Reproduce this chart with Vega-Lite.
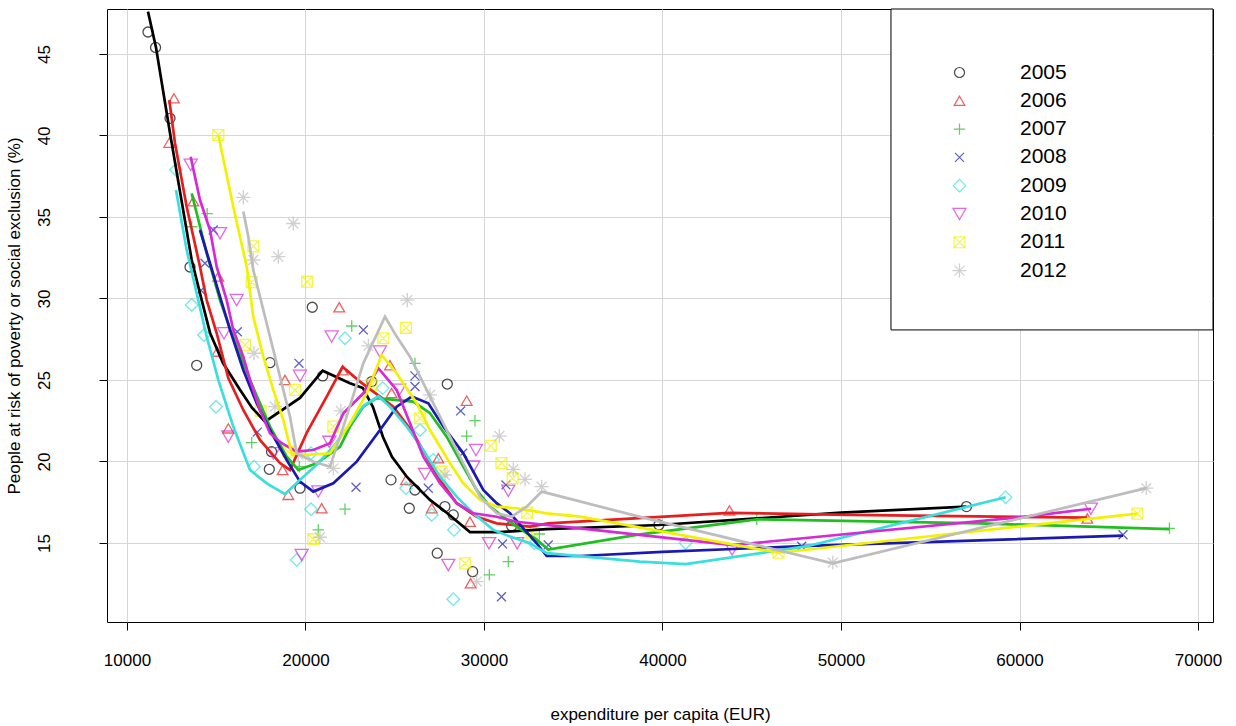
{
"$schema":"https://vega.github.io/schema/vega-lite/v6.json",
"width":1106,"height":613,
"autosize":{"type":"none"},
"padding":{"left":107,"top":9,"right":23,"bottom":104},
"background":"white",
"config":{"font":"Liberation Sans","view":{"stroke":"black","strokeWidth":1},
"axis":{"labelFont":"Liberation Sans","titleFont":"Liberation Sans","labelColor":"black","titleColor":"black","labelFontSize":17,"titleFontSize":17,"titleFontWeight":"normal","tickColor":"black","tickSize":8,"domain":false,"gridColor":"#d6d6d6","gridWidth":1}},
"datasets":{
"pts":[
{"year":"2005","exp":11176,"risk":46.35},{"year":"2005","exp":11600,"risk":45.4},{"year":"2005","exp":12409,"risk":41.05},{"year":"2005","exp":13530,"risk":31.93},{"year":"2005","exp":13905,"risk":25.9},{"year":"2005","exp":17972,"risk":19.52},{"year":"2005","exp":18011,"risk":26.06},{"year":"2005","exp":18100,"risk":20.6},{"year":"2005","exp":19691,"risk":18.36},{"year":"2005","exp":20380,"risk":29.46},{"year":"2005","exp":20963,"risk":25.25},{"year":"2005","exp":23708,"risk":24.9},{"year":"2005","exp":24790,"risk":18.87},{"year":"2005","exp":25815,"risk":17.13},{"year":"2005","exp":26130,"risk":18.25},{"year":"2005","exp":27380,"risk":14.37},{"year":"2005","exp":27810,"risk":17.23},{"year":"2005","exp":27943,"risk":24.75},{"year":"2005","exp":28280,"risk":16.72},{"year":"2005","exp":29365,"risk":13.24},{"year":"2005","exp":31548,"risk":16.04},{"year":"2005","exp":39800,"risk":16.1},{"year":"2005","exp":57030,"risk":17.23},
{"year":"2006","exp":12633,"risk":42.28},{"year":"2006","exp":12370,"risk":39.56},{"year":"2006","exp":13716,"risk":35.96},{"year":"2006","exp":15116,"risk":31.35},{"year":"2006","exp":15060,"risk":26.74},{"year":"2006","exp":15676,"risk":22.03},{"year":"2006","exp":18851,"risk":25.0},{"year":"2006","exp":18720,"risk":19.48},{"year":"2006","exp":19037,"risk":17.95},{"year":"2006","exp":20907,"risk":17.13},{"year":"2006","exp":21890,"risk":29.46},{"year":"2006","exp":22083,"risk":25.6},{"year":"2006","exp":24733,"risk":25.9},{"year":"2006","exp":24820,"risk":24.2},{"year":"2006","exp":25630,"risk":18.87},{"year":"2006","exp":27070,"risk":17.13},{"year":"2006","exp":27440,"risk":20.2},{"year":"2006","exp":29030,"risk":23.73},{"year":"2006","exp":29215,"risk":16.3},{"year":"2006","exp":29250,"risk":12.53},{"year":"2006","exp":43750,"risk":17.0},{"year":"2006","exp":63800,"risk":16.5},
{"year":"2007","exp":13625,"risk":34.4},{"year":"2007","exp":14491,"risk":35.2},{"year":"2007","exp":16985,"risk":21.15},{"year":"2007","exp":19653,"risk":19.68},{"year":"2007","exp":20717,"risk":15.8},{"year":"2007","exp":22212,"risk":17.07},{"year":"2007","exp":22590,"risk":28.31},{"year":"2007","exp":26133,"risk":26.02},{"year":"2007","exp":29030,"risk":21.56},{"year":"2007","exp":29495,"risk":22.5},{"year":"2007","exp":30300,"risk":13.04},{"year":"2007","exp":31360,"risk":13.85},{"year":"2007","exp":33100,"risk":15.55},{"year":"2007","exp":45280,"risk":16.45},{"year":"2007","exp":68400,"risk":15.9},
{"year":"2008","exp":14145,"risk":30.5},{"year":"2008","exp":14370,"risk":32.16},{"year":"2008","exp":14834,"risk":34.2},{"year":"2008","exp":16180,"risk":27.96},{"year":"2008","exp":17300,"risk":21.8},{"year":"2008","exp":19635,"risk":26.02},{"year":"2008","exp":22830,"risk":18.42},{"year":"2008","exp":23240,"risk":28.07},{"year":"2008","exp":26133,"risk":25.25},{"year":"2008","exp":26133,"risk":24.6},{"year":"2008","exp":26880,"risk":18.36},{"year":"2008","exp":28694,"risk":23.1},{"year":"2008","exp":28806,"risk":20.5},{"year":"2008","exp":30980,"risk":11.7},{"year":"2008","exp":31040,"risk":14.94},{"year":"2008","exp":31230,"risk":18.56},{"year":"2008","exp":33600,"risk":14.88},{"year":"2008","exp":47800,"risk":14.8},{"year":"2008","exp":65800,"risk":15.5},
{"year":"2009","exp":12745,"risk":37.9},{"year":"2009","exp":13625,"risk":29.6},{"year":"2009","exp":14314,"risk":27.76},{"year":"2009","exp":14986,"risk":23.36},{"year":"2009","exp":17115,"risk":19.68},{"year":"2009","exp":19507,"risk":13.96},{"year":"2009","exp":20308,"risk":17.07},{"year":"2009","exp":20308,"risk":20.5},{"year":"2009","exp":22212,"risk":27.56},{"year":"2009","exp":24324,"risk":24.5},{"year":"2009","exp":25630,"risk":18.36},{"year":"2009","exp":26413,"risk":21.93},{"year":"2009","exp":27070,"risk":16.72},{"year":"2009","exp":27160,"risk":20.1},{"year":"2009","exp":28280,"risk":11.55},{"year":"2009","exp":28320,"risk":15.8},{"year":"2009","exp":32820,"risk":14.98},{"year":"2009","exp":41300,"risk":15.0},{"year":"2009","exp":59220,"risk":17.8},
{"year":"2010","exp":13568,"risk":38.2},{"year":"2010","exp":15210,"risk":34.0},{"year":"2010","exp":15434,"risk":27.86},{"year":"2010","exp":15676,"risk":21.52},{"year":"2010","exp":16145,"risk":29.9},{"year":"2010","exp":18196,"risk":20.5},{"year":"2010","exp":19691,"risk":25.25},{"year":"2010","exp":19785,"risk":14.26},{"year":"2010","exp":20717,"risk":18.15},{"year":"2010","exp":21336,"risk":21.2},{"year":"2010","exp":21465,"risk":27.66},{"year":"2010","exp":24170,"risk":26.74},{"year":"2010","exp":25254,"risk":24.4},{"year":"2010","exp":26694,"risk":19.23},{"year":"2010","exp":28000,"risk":13.65},{"year":"2010","exp":29400,"risk":19.68},{"year":"2010","exp":29550,"risk":20.7},{"year":"2010","exp":30280,"risk":14.98},{"year":"2010","exp":31360,"risk":18.2},{"year":"2010","exp":31860,"risk":14.98},{"year":"2010","exp":43900,"risk":14.6},{"year":"2010","exp":64000,"risk":17.1},
{"year":"2011","exp":15116,"risk":40.03},{"year":"2011","exp":16610,"risk":27.15},{"year":"2011","exp":16985,"risk":31.0},{"year":"2011","exp":17075,"risk":33.2},{"year":"2011","exp":17490,"risk":23.1},{"year":"2011","exp":19037,"risk":20.6},{"year":"2011","exp":19411,"risk":24.39},{"year":"2011","exp":20095,"risk":31.03},{"year":"2011","exp":20437,"risk":15.23},{"year":"2011","exp":21560,"risk":22.14},{"year":"2011","exp":23700,"risk":24.7},{"year":"2011","exp":24360,"risk":27.56},{"year":"2011","exp":25630,"risk":28.2},{"year":"2011","exp":26413,"risk":22.65},{"year":"2011","exp":27630,"risk":19.37},{"year":"2011","exp":28935,"risk":13.75},{"year":"2011","exp":30380,"risk":20.95},{"year":"2011","exp":30980,"risk":19.9},{"year":"2011","exp":31604,"risk":18.97},{"year":"2011","exp":32425,"risk":16.86},{"year":"2011","exp":32670,"risk":15.6},{"year":"2011","exp":46500,"risk":14.4},{"year":"2011","exp":66600,"risk":16.8},
{"year":"2012","exp":16517,"risk":36.2},{"year":"2012","exp":17075,"risk":32.36},{"year":"2012","exp":17115,"risk":26.64},{"year":"2012","exp":18291,"risk":23.36},{"year":"2012","exp":18476,"risk":32.57},{"year":"2012","exp":19316,"risk":34.6},{"year":"2012","exp":19598,"risk":20.4},{"year":"2012","exp":20812,"risk":15.35},{"year":"2012","exp":21560,"risk":19.58},{"year":"2012","exp":21980,"risk":23.1},{"year":"2012","exp":23520,"risk":27.09},{"year":"2012","exp":25702,"risk":29.9},{"year":"2012","exp":26974,"risk":24.08},{"year":"2012","exp":27810,"risk":19.17},{"year":"2012","exp":29590,"risk":12.63},{"year":"2012","exp":30860,"risk":21.56},{"year":"2012","exp":31640,"risk":19.52},{"year":"2012","exp":32296,"risk":18.9},{"year":"2012","exp":33230,"risk":18.45},{"year":"2012","exp":49540,"risk":13.8},{"year":"2012","exp":67100,"risk":18.36}
],
"lns":[
{"year":"2005","ord":1,"exp":11176,"risk":47.6},{"year":"2005","ord":2,"exp":11625,"risk":45.4},{"year":"2005","ord":3,"exp":12409,"risk":40.15},{"year":"2005","ord":4,"exp":13625,"risk":32.36},{"year":"2005","ord":5,"exp":14185,"risk":29.9},{"year":"2005","ord":6,"exp":14650,"risk":27.9},{"year":"2005","ord":7,"exp":15378,"risk":26.04},{"year":"2005","ord":8,"exp":16330,"risk":24.4},{"year":"2005","ord":9,"exp":17000,"risk":23.3},{"year":"2005","ord":10,"exp":17730,"risk":22.44},{"year":"2005","ord":11,"exp":19691,"risk":23.9},{"year":"2005","ord":12,"exp":20963,"risk":25.57},{"year":"2005","ord":13,"exp":22492,"risk":24.8},{"year":"2005","ord":14,"exp":23220,"risk":24.5},{"year":"2005","ord":15,"exp":23780,"risk":23.34},{"year":"2005","ord":16,"exp":24341,"risk":21.5},{"year":"2005","ord":17,"exp":24845,"risk":20.28},{"year":"2005","ord":18,"exp":25686,"risk":19.05},{"year":"2005","ord":19,"exp":26974,"risk":17.64},{"year":"2005","ord":20,"exp":27926,"risk":16.84},{"year":"2005","ord":21,"exp":29215,"risk":15.67},{"year":"2005","ord":22,"exp":30895,"risk":15.67},{"year":"2005","ord":23,"exp":33500,"risk":15.85},{"year":"2005","ord":24,"exp":39800,"risk":16.1},{"year":"2005","ord":25,"exp":50000,"risk":16.86},{"year":"2005","ord":26,"exp":57030,"risk":17.23},
{"year":"2006","ord":1,"exp":12370,"risk":42.18},{"year":"2006","ord":2,"exp":12689,"risk":39.54},{"year":"2006","ord":3,"exp":13344,"risk":35.63},{"year":"2006","ord":4,"exp":14090,"risk":31.95},{"year":"2006","ord":5,"exp":14465,"risk":29.9},{"year":"2006","ord":6,"exp":15025,"risk":27.88},{"year":"2006","ord":7,"exp":15675,"risk":25.12},{"year":"2006","ord":8,"exp":16515,"risk":23.16},{"year":"2006","ord":9,"exp":17450,"risk":21.32},{"year":"2006","ord":10,"exp":18571,"risk":19.9},{"year":"2006","ord":11,"exp":19131,"risk":19.48},{"year":"2006","ord":12,"exp":20067,"risk":21.75},{"year":"2006","ord":13,"exp":21187,"risk":23.98},{"year":"2006","ord":14,"exp":22083,"risk":25.8},{"year":"2006","ord":15,"exp":23053,"risk":24.9},{"year":"2006","ord":16,"exp":24173,"risk":23.98},{"year":"2006","ord":17,"exp":24920,"risk":23.36},{"year":"2006","ord":18,"exp":26040,"risk":21.73},{"year":"2006","ord":19,"exp":27534,"risk":18.87},{"year":"2006","ord":20,"exp":28470,"risk":17.44},{"year":"2006","ord":21,"exp":29590,"risk":16.61},{"year":"2006","ord":22,"exp":30710,"risk":16.2},{"year":"2006","ord":23,"exp":32580,"risk":16.0},{"year":"2006","ord":24,"exp":33600,"risk":16.2},{"year":"2006","ord":25,"exp":43750,"risk":16.85},{"year":"2006","ord":26,"exp":50500,"risk":16.72},{"year":"2006","ord":27,"exp":63800,"risk":16.55},
{"year":"2007","ord":1,"exp":13625,"risk":36.45},{"year":"2007","ord":2,"exp":13905,"risk":35.23},{"year":"2007","ord":3,"exp":14465,"risk":32.77},{"year":"2007","ord":4,"exp":15210,"risk":29.9},{"year":"2007","ord":5,"exp":15938,"risk":27.66},{"year":"2007","ord":6,"exp":16890,"risk":25.0},{"year":"2007","ord":7,"exp":18011,"risk":22.14},{"year":"2007","ord":8,"exp":18946,"risk":20.3},{"year":"2007","ord":9,"exp":19596,"risk":19.48},{"year":"2007","ord":10,"exp":20627,"risk":19.89},{"year":"2007","ord":11,"exp":21932,"risk":20.9},{"year":"2007","ord":12,"exp":22492,"risk":22.14},{"year":"2007","ord":13,"exp":23238,"risk":23.36},{"year":"2007","ord":14,"exp":23988,"risk":23.88},{"year":"2007","ord":15,"exp":26039,"risk":23.67},{"year":"2007","ord":16,"exp":26974,"risk":22.96},{"year":"2007","ord":17,"exp":27910,"risk":21.52},{"year":"2007","ord":18,"exp":28840,"risk":19.68},{"year":"2007","ord":19,"exp":29590,"risk":18.25},{"year":"2007","ord":20,"exp":30335,"risk":17.23},{"year":"2007","ord":21,"exp":31080,"risk":16.61},{"year":"2007","ord":22,"exp":31830,"risk":16.0},{"year":"2007","ord":23,"exp":32950,"risk":15.2},{"year":"2007","ord":24,"exp":33600,"risk":14.6},{"year":"2007","ord":25,"exp":38550,"risk":15.5},{"year":"2007","ord":26,"exp":45280,"risk":16.45},{"year":"2007","ord":27,"exp":57810,"risk":16.2},{"year":"2007","ord":28,"exp":68400,"risk":15.85},
{"year":"2008","ord":1,"exp":14090,"risk":34.2},{"year":"2008","ord":2,"exp":14650,"risk":32.16},{"year":"2008","ord":3,"exp":15210,"risk":30.11},{"year":"2008","ord":4,"exp":15770,"risk":28.07},{"year":"2008","ord":5,"exp":16515,"risk":25.61},{"year":"2008","ord":6,"exp":17265,"risk":23.57},{"year":"2008","ord":7,"exp":18011,"risk":21.93},{"year":"2008","ord":8,"exp":18946,"risk":20.09},{"year":"2008","ord":9,"exp":19691,"risk":18.76},{"year":"2008","ord":10,"exp":20437,"risk":18.15},{"year":"2008","ord":11,"exp":21557,"risk":18.66},{"year":"2008","ord":12,"exp":22868,"risk":19.99},{"year":"2008","ord":13,"exp":24173,"risk":21.93},{"year":"2008","ord":14,"exp":25109,"risk":23.36},{"year":"2008","ord":15,"exp":25949,"risk":23.98},{"year":"2008","ord":16,"exp":26880,"risk":23.57},{"year":"2008","ord":17,"exp":27720,"risk":22.14},{"year":"2008","ord":18,"exp":28840,"risk":20.5},{"year":"2008","ord":19,"exp":29960,"risk":18.25},{"year":"2008","ord":20,"exp":30710,"risk":17.44},{"year":"2008","ord":21,"exp":31456,"risk":16.82},{"year":"2008","ord":22,"exp":32950,"risk":14.98},{"year":"2008","ord":23,"exp":33510,"risk":14.2},{"year":"2008","ord":24,"exp":35380,"risk":14.2},{"year":"2008","ord":25,"exp":40000,"risk":14.45},{"year":"2008","ord":26,"exp":47800,"risk":14.8},{"year":"2008","ord":27,"exp":65800,"risk":15.45},
{"year":"2009","ord":1,"exp":12745,"risk":36.66},{"year":"2009","ord":2,"exp":13344,"risk":32.98},{"year":"2009","ord":3,"exp":13994,"risk":29.9},{"year":"2009","ord":4,"exp":14465,"risk":27.66},{"year":"2009","ord":5,"exp":15115,"risk":25.0},{"year":"2009","ord":6,"exp":15955,"risk":22.14},{"year":"2009","ord":7,"exp":16890,"risk":19.48},{"year":"2009","ord":8,"exp":17826,"risk":18.66},{"year":"2009","ord":9,"exp":18851,"risk":18.0},{"year":"2009","ord":10,"exp":19691,"risk":18.87},{"year":"2009","ord":11,"exp":20627,"risk":19.8},{"year":"2009","ord":12,"exp":21557,"risk":20.9},{"year":"2009","ord":13,"exp":22492,"risk":22.3},{"year":"2009","ord":14,"exp":23238,"risk":23.4},{"year":"2009","ord":15,"exp":24080,"risk":24.0},{"year":"2009","ord":16,"exp":24733,"risk":23.36},{"year":"2009","ord":17,"exp":25669,"risk":22.14},{"year":"2009","ord":18,"exp":26600,"risk":20.7},{"year":"2009","ord":19,"exp":27534,"risk":19.07},{"year":"2009","ord":20,"exp":28470,"risk":17.84},{"year":"2009","ord":21,"exp":29400,"risk":16.82},{"year":"2009","ord":22,"exp":30520,"risk":15.8},{"year":"2009","ord":23,"exp":31456,"risk":15.39},{"year":"2009","ord":24,"exp":32580,"risk":14.98},{"year":"2009","ord":25,"exp":33510,"risk":14.37},{"year":"2009","ord":26,"exp":38740,"risk":13.85},{"year":"2009","ord":27,"exp":41300,"risk":13.7},{"year":"2009","ord":28,"exp":48100,"risk":14.8},{"year":"2009","ord":29,"exp":59220,"risk":17.8},
{"year":"2010","ord":1,"exp":13568,"risk":38.7},{"year":"2010","ord":2,"exp":14090,"risk":36.04},{"year":"2010","ord":3,"exp":14650,"risk":34.2},{"year":"2010","ord":4,"exp":15025,"risk":31.95},{"year":"2010","ord":5,"exp":15585,"risk":29.9},{"year":"2010","ord":6,"exp":15955,"risk":28.07},{"year":"2010","ord":7,"exp":16515,"risk":26.43},{"year":"2010","ord":8,"exp":16890,"risk":25.0},{"year":"2010","ord":9,"exp":17450,"risk":23.16},{"year":"2010","ord":10,"exp":18011,"risk":21.73},{"year":"2010","ord":11,"exp":18666,"risk":21.12},{"year":"2010","ord":12,"exp":19507,"risk":20.6},{"year":"2010","ord":13,"exp":20437,"risk":20.7},{"year":"2010","ord":14,"exp":21373,"risk":21.12},{"year":"2010","ord":15,"exp":22120,"risk":22.96},{"year":"2010","ord":16,"exp":23238,"risk":24.18},{"year":"2010","ord":17,"exp":24080,"risk":25.72},{"year":"2010","ord":18,"exp":25109,"risk":24.39},{"year":"2010","ord":19,"exp":25854,"risk":22.34},{"year":"2010","ord":20,"exp":26600,"risk":20.29},{"year":"2010","ord":21,"exp":27534,"risk":18.66},{"year":"2010","ord":22,"exp":28470,"risk":17.44},{"year":"2010","ord":23,"exp":29400,"risk":16.82},{"year":"2010","ord":24,"exp":30710,"risk":16.61},{"year":"2010","ord":25,"exp":31830,"risk":16.3},{"year":"2010","ord":26,"exp":33510,"risk":16.1},{"year":"2010","ord":27,"exp":35380,"risk":15.9},{"year":"2010","ord":28,"exp":43940,"risk":14.87},{"year":"2010","ord":29,"exp":60240,"risk":16.6},{"year":"2010","ord":30,"exp":64010,"risk":17.1},
{"year":"2011","ord":1,"exp":15116,"risk":40.03},{"year":"2011","ord":2,"exp":15955,"risk":35.63},{"year":"2011","ord":3,"exp":16706,"risk":31.95},{"year":"2011","ord":4,"exp":17075,"risk":28.88},{"year":"2011","ord":5,"exp":17636,"risk":26.43},{"year":"2011","ord":6,"exp":18196,"risk":24.39},{"year":"2011","ord":7,"exp":18756,"risk":22.55},{"year":"2011","ord":8,"exp":19226,"risk":20.5},{"year":"2011","ord":9,"exp":20067,"risk":20.4},{"year":"2011","ord":10,"exp":21373,"risk":20.5},{"year":"2011","ord":11,"exp":22492,"risk":22.34},{"year":"2011","ord":12,"exp":23426,"risk":24.18},{"year":"2011","ord":13,"exp":24267,"risk":26.53},{"year":"2011","ord":14,"exp":25109,"risk":25.4},{"year":"2011","ord":15,"exp":26230,"risk":23.57},{"year":"2011","ord":16,"exp":26974,"risk":21.93},{"year":"2011","ord":17,"exp":28095,"risk":19.89},{"year":"2011","ord":18,"exp":28840,"risk":18.66},{"year":"2011","ord":19,"exp":29775,"risk":17.64},{"year":"2011","ord":20,"exp":30710,"risk":17.23},{"year":"2011","ord":21,"exp":31830,"risk":17.13},{"year":"2011","ord":22,"exp":33510,"risk":16.82},{"year":"2011","ord":23,"exp":35380,"risk":16.61},{"year":"2011","ord":24,"exp":46500,"risk":14.4},{"year":"2011","ord":25,"exp":66600,"risk":16.8},
{"year":"2012","ord":1,"exp":16517,"risk":35.33},{"year":"2012","ord":2,"exp":16797,"risk":33.79},{"year":"2012","ord":3,"exp":17075,"risk":31.75},{"year":"2012","ord":4,"exp":17450,"risk":30.11},{"year":"2012","ord":5,"exp":18011,"risk":27.66},{"year":"2012","ord":6,"exp":18386,"risk":26.02},{"year":"2012","ord":7,"exp":18756,"risk":24.39},{"year":"2012","ord":8,"exp":19131,"risk":22.75},{"year":"2012","ord":9,"exp":19507,"risk":20.5},{"year":"2012","ord":10,"exp":20420,"risk":20.0},{"year":"2012","ord":11,"exp":21373,"risk":19.68},{"year":"2012","ord":12,"exp":22305,"risk":22.75},{"year":"2012","ord":13,"exp":23238,"risk":26.02},{"year":"2012","ord":14,"exp":24453,"risk":28.88},{"year":"2012","ord":15,"exp":25109,"risk":27.66},{"year":"2012","ord":16,"exp":25854,"risk":26.43},{"year":"2012","ord":17,"exp":26790,"risk":24.39},{"year":"2012","ord":18,"exp":27720,"risk":22.34},{"year":"2012","ord":19,"exp":28840,"risk":19.89},{"year":"2012","ord":20,"exp":29775,"risk":17.84},{"year":"2012","ord":21,"exp":30710,"risk":16.82},{"year":"2012","ord":22,"exp":31550,"risk":16.61},{"year":"2012","ord":23,"exp":32390,"risk":17.23},{"year":"2012","ord":24,"exp":33230,"risk":18.15},{"year":"2012","ord":25,"exp":38740,"risk":16.6},{"year":"2012","ord":26,"exp":49540,"risk":13.75},{"year":"2012","ord":27,"exp":67100,"risk":18.36}
]
},
"layer":[
{"data":{"name":"pts"},
"mark":{"type":"point","filled":false,"strokeWidth":1.3,"clip":true},
"encoding":{
"x":{"field":"exp","type":"quantitative","scale":{"domain":[8880,70840],"nice":false,"zero":false},
"axis":{"values":[10000,20000,30000,40000,50000,60000,70000],"format":"d","labelPadding":22,"labelBaseline":"top","title":"expenditure per capita (EUR)","titlePadding":38}},
"y":{"field":"risk","type":"quantitative","scale":{"domain":[10.15,47.76],"nice":false,"zero":false},
"axis":{"values":[15,20,25,30,35,40,45],"labelAngle":-90,"labelAlign":"center","labelBaseline":"bottom","labelPadding":46,"title":"People at risk of poverty or social exclusion (%)","titlePadding":12}},
"color":{"field":"year","type":"nominal","scale":{"domain":["2005","2006","2007","2008","2009","2010","2011","2012"],"range":["#000000","#e51e1e","#1fbf1f","#1a1ab0","#3adede","#d62ad6","#f2f200","#bdbdbd"]},
"legend":{"title":null,"orient":"none","legendX":842,"legendY":53,"labelFontSize":21,"symbolSize":70,"symbolStrokeWidth":1.2,"labelOffset":50,"rowPadding":6.3,"padding":0,"labelFont":"Liberation Sans","encode":{"labels":{"update":{"fill":{"scale":"color","field":"value"}}}}}},
"shape":{"field":"year","type":"nominal","scale":{"domain":["2005","2006","2007","2008","2009","2010","2011","2012"],"range":["circle","triangle-up","M-1,0L1,0M0,-1L0,1","M-0.75,-0.75L0.75,0.75M-0.75,0.75L0.75,-0.75","diamond","triangle-down","M-0.8,-0.8L0.8,-0.8L0.8,0.8L-0.8,0.8ZM-0.8,-0.8L0.8,0.8M-0.8,0.8L0.8,-0.8","M-1,0L1,0M0,-1L0,1M-0.7,-0.7L0.7,0.7M-0.7,0.7L0.7,-0.7"]}},
"size":{"field":"year","type":"nominal","scale":{"domain":["2005","2006","2007","2008","2009","2010","2011","2012"],"range":[100,200,220,170,200,200,130,220]},"legend":null}
}},
{"data":{"name":"lns"},
"mark":{"type":"line","strokeWidth":2.7,"clip":true},
"encoding":{
"x":{"field":"exp","type":"quantitative"},
"y":{"field":"risk","type":"quantitative"},
"stroke":{"field":"year","type":"nominal","scale":{"domain":["2005","2006","2007","2008","2009","2010","2011","2012"],"range":["#000000","#e51e1e","#1fbf1f","#1a1ab0","#3adede","#d62ad6","#f2f200","#bdbdbd"]},"legend":null},
"order":{"field":"ord","type":"quantitative"}
}},
{"data":{"values":[{}]},
"mark":{"type":"rect","fill":"white","stroke":"black","strokeWidth":1},
"encoding":{"x":{"datum":52800,"type":"quantitative"},"x2":{"datum":70840},"y":{"datum":47.76,"type":"quantitative"},"y2":{"datum":28.07}}}
]
}
